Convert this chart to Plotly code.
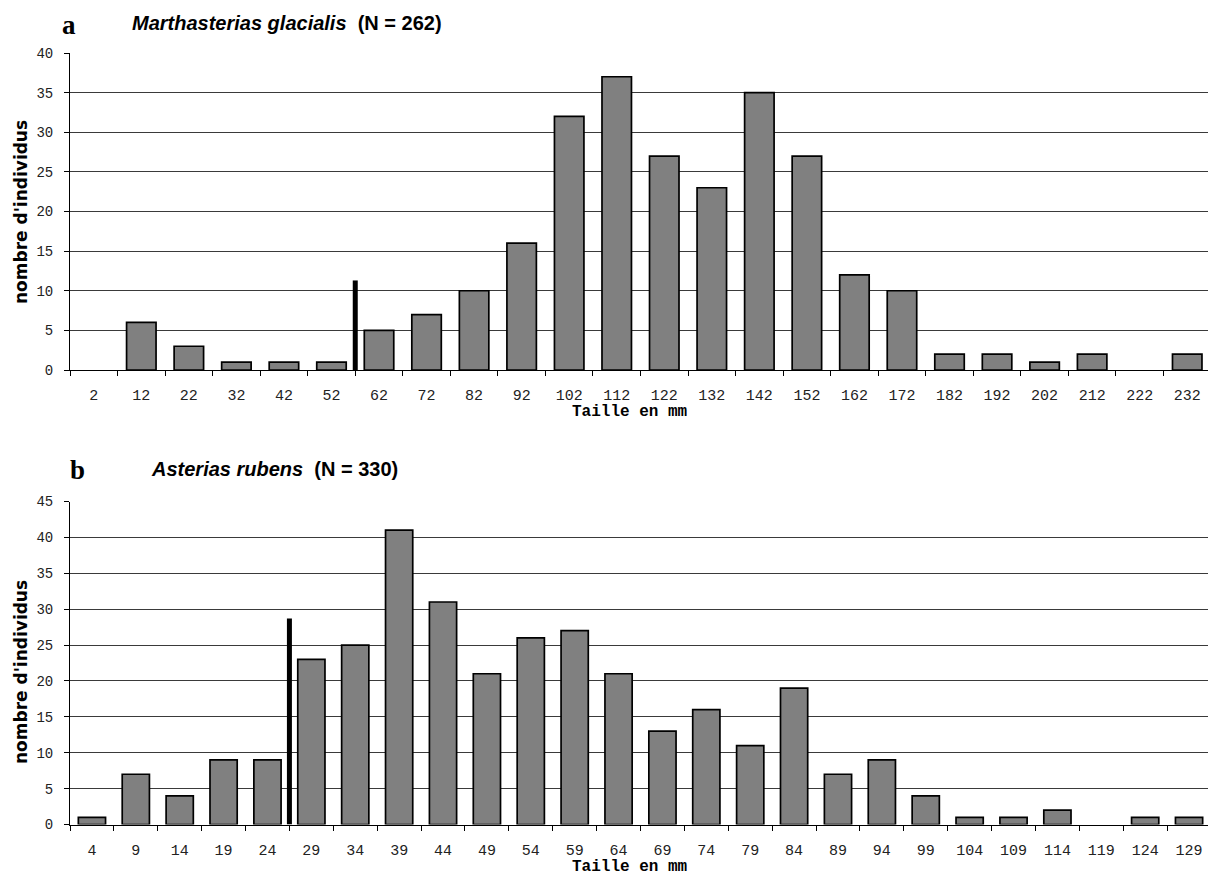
import plotly.graph_objects as go

# ---------------- data ----------------
marth_sizes = ["2", "12", "22", "32", "42", "52", "62", "72", "82", "92", "102", "112",
               "122", "132", "142", "152", "162", "172", "182", "192", "202", "212", "222", "232"]
marth_counts = [0, 6, 3, 1, 1, 1, 5, 7, 10, 16, 32, 37, 27, 23, 35, 27, 12, 10, 2, 2, 1, 2, 0, 2]
marth_cut_pos = 5.5      # boundary between classes 52 and 62
marth_cut_height = 11.3

ast_sizes = ["4", "9", "14", "19", "24", "29", "34", "39", "44", "49", "54", "59", "64",
             "69", "74", "79", "84", "89", "94", "99", "104", "109", "114", "119", "124", "129"]
ast_counts = [1, 7, 4, 9, 9, 23, 25, 41, 31, 21, 26, 27, 21, 13, 16, 11, 19, 7, 9, 4, 1, 1, 2, 0, 1, 1]
ast_cut_pos = 4.5        # boundary between classes 24 and 29
ast_cut_height = 28.7

# ---------------- layout helpers ----------------
W, H = 1216, 875
OFF = 8  # page body margin
def px(x):
    return (x - OFF) / W
def py(y):
    return 1 - (y - OFF) / H

TICK_FONT = dict(family="Liberation Mono", size=15, color="#222222")
BAR_FILL = "#808080"
GRID = "#3a3a3a"

fig = go.Figure()

panels = [
    (marth_sizes, marth_counts, marth_cut_pos, marth_cut_height, "x", "y"),
    (ast_sizes, ast_counts, ast_cut_pos, ast_cut_height, "x2", "y2"),
]
for sizes, counts, cpos, ch, xa, ya in panels:
    idx = list(range(len(sizes)))
    fig.add_trace(go.Bar(
        x=idx, y=counts, width=0.62,
        marker=dict(color=BAR_FILL,
                    line=dict(color="black", width=[1.7 if c > 0 else 0 for c in counts])),
        xaxis=xa, yaxis=ya, showlegend=False, hoverinfo="skip",
    ))
    fig.add_trace(go.Scatter(
        x=[cpos, cpos], y=[0, ch], mode="lines",
        line=dict(color="black", width=5),
        xaxis=xa, yaxis=ya, showlegend=False, hoverinfo="skip",
    ))

def xaxis_cfg(labels, dom, anchor):
    n = len(labels)
    return dict(
        domain=dom, anchor=anchor, range=[-0.5, n - 0.5], type="linear", automargin=False,
        tickmode="array", tickvals=list(range(n)), ticktext=labels,
        ticks="outside", ticklen=5, tickcolor="rgba(0,0,0,0)",
        ticklabelstandoff=6,
        minor=dict(tickmode="array", tickvals=[i - 0.5 for i in range(n + 1)],
                   ticks="outside", ticklen=5, tickcolor="black", tickwidth=1,
                   showgrid=False),
        showline=True, linecolor="black", linewidth=1,
        showgrid=False, zeroline=False, tickfont=TICK_FONT, fixedrange=True,
    )

def yaxis_cfg(top, dom, anchor):
    return dict(
        domain=dom, anchor=anchor, range=[0, top], tickmode="linear", tick0=0, dtick=5,
        automargin=False,
        ticks="outside", ticklen=5, tickcolor="black", tickwidth=1,
        ticklabelstandoff=8,
        showline=True, linecolor="black", linewidth=1,
        showgrid=True, gridcolor=GRID, gridwidth=1, zeroline=False,
        tickfont=dict(family="Liberation Mono", size=14, color="#222222"),
        fixedrange=True,
    )

xdom = [px(70), px(1211)]
fig.update_layout(
    template="none",
    width=W, height=H,
    margin=dict(l=0, r=0, t=0, b=0, autoexpand=False),
    paper_bgcolor="white", plot_bgcolor="white",
    bargap=0.38,
    xaxis=xaxis_cfg(marth_sizes, xdom, "y"),
    yaxis=yaxis_cfg(40, [py(370), py(53)], "x"),
    xaxis2=xaxis_cfg(ast_sizes, xdom, "y2"),
    yaxis2=yaxis_cfg(45, [py(824.5), py(501.5)], "x2"),
)

ann = []
# panel letters
ann.append(dict(text="<b>a</b>", x=px(60), y=py(25), xanchor="left", yanchor="middle",
                font=dict(family="Liberation Serif", size=27, color="black")))
ann.append(dict(text="<b>b</b>", x=px(68), y=py(470), xanchor="left", yanchor="middle",
                font=dict(family="Liberation Serif", size=27, color="black")))
# species titles
ann.append(dict(text="<b><i>Marthasterias glacialis</i>\u00a0 (N = 262)</b>", x=px(130), y=py(23),
                xanchor="left", yanchor="middle",
                font=dict(family="Liberation Sans", size=20, color="black")))
ann.append(dict(text="<b><i>Asterias rubens</i>\u00a0 (N = 330)</b>", x=px(149), y=py(469),
                xanchor="left", yanchor="middle",
                font=dict(family="Liberation Sans", size=20, color="black")))
# axis titles
for yc in (212, 672):
    ann.append(dict(text="<b>nombre d'individus</b>", x=px(21), y=py(yc), textangle=-90,
                    xanchor="center", yanchor="middle",
                    font=dict(family="DejaVu Sans", size=17, color="black")))
for yc in (412, 867):
    ann.append(dict(text="<b>Taille en mm</b>", x=px(630), y=py(yc),
                    xanchor="center", yanchor="middle",
                    font=dict(family="Liberation Mono", size=16, color="black")))
for a in ann:
    a.update(xref="paper", yref="paper", showarrow=False)
fig.update_layout(annotations=ann)

fig.write_html("out.html")
